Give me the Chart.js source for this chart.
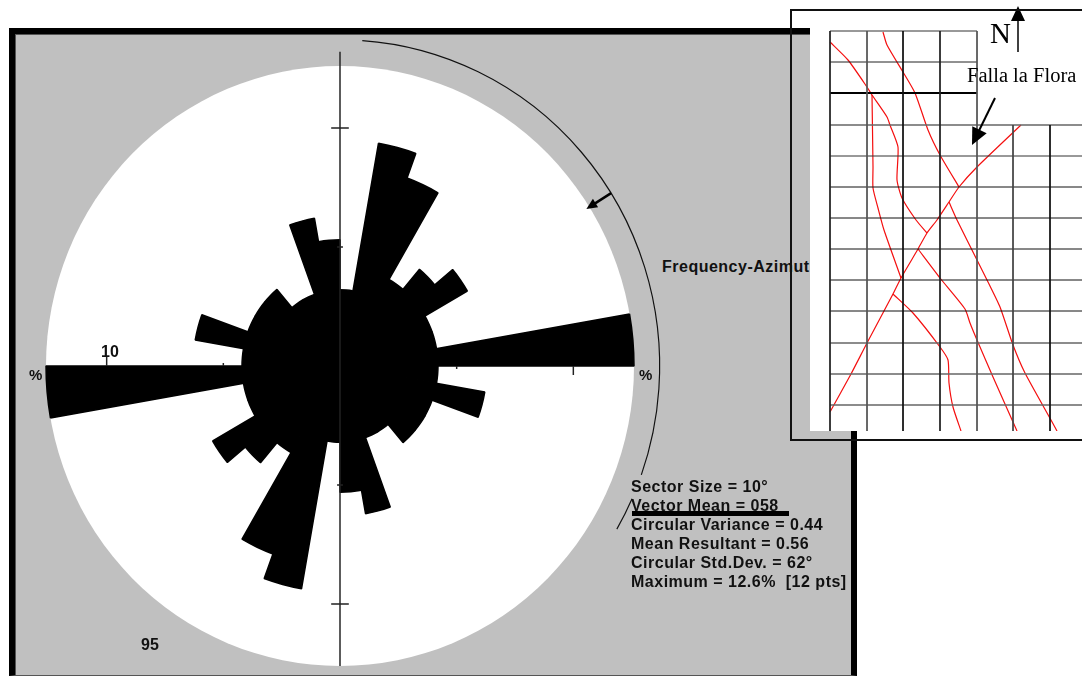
<!DOCTYPE html>
<html>
<head>
<meta charset="utf-8">
<script src="https://cdn.jsdelivr.net/npm/chart.js@4/dist/chart.umd.min.js"></script>
<style>
  html, body { margin: 0; padding: 0; background: #fff; overflow: hidden; }
  #page { position: relative; width: 1082px; height: 676px; overflow: hidden; }
  #panel { position: absolute; left: 9px; top: 28px; width: 848px; height: 648px; box-sizing: border-box;
           background: #c0c0c0; border: 6px solid #000; border-bottom: 1px solid #555; box-shadow: inset 1px 1px 0 #555; }
  canvas { position: absolute; display: block; }
  #roseCanvas { left: 0; top: 0; }
  #mapCanvas { left: 810px; top: 0; background: #fff; }
  .t { position: absolute; white-space: pre; color: #111; font: bold 16px "Liberation Sans", sans-serif; line-height: 16px; letter-spacing: 0.5px; }
  .stats { left: 631px; }
  .m { font-family: "Liberation Serif", serif; font-weight: normal; color: #000; letter-spacing: 0; }
  #underline { position: absolute; left: 632px; top: 511px; width: 157px; height: 5px; background: #000; }
  #box { position: absolute; left: 790px; top: 9px; width: 340px; height: 432px; box-sizing: border-box; border: 2px solid #111; }
</style>
</head>
<body>
<div id="page">
  <div id="panel"></div>
  <div class="t" style="left:662px;top:259px">Frequency-Azimuth</div>
  <canvas id="roseCanvas" width="860" height="676"></canvas>
  <div class="t" style="left:101px;top:344px;letter-spacing:0">10</div>
  <div class="t" style="left:29px;top:367px;font-size:15px;letter-spacing:0">%</div>
  <div class="t" style="left:639px;top:367px;font-size:15px;letter-spacing:0">%</div>
  <div class="t" style="left:141px;top:637px;letter-spacing:0">95</div>
  <div class="t stats" style="top:479px">Sector Size = 10°</div>
  <div class="t stats" style="top:498px">Vector Mean = 058</div>
  <div class="t stats" style="top:517px">Circular Variance = 0.44</div>
  <div class="t stats" style="top:536px">Mean Resultant = 0.56</div>
  <div class="t stats" style="top:555px">Circular Std.Dev. = 62°</div>
  <div class="t stats" style="top:574px">Maximum = 12.6%  [12 pts]</div>
  <div id="underline"></div>
  <canvas id="mapCanvas" width="272" height="431"></canvas>
  <div id="box"></div>
  <div class="t m" style="left:990px;top:18px;font-size:29px;line-height:30px">N</div>
  <div class="t m" style="left:967px;top:65px;font-size:20.5px;line-height:20px">Falla la Flora</div>
</div>

<script>
// rose diagram, clockwise from north, 10 degree sectors (%)
const sectorLabels = [
  "000", "010", "020", "030", "040", "050", "060", "070", "080",
  "090", "100", "110", "120", "130", "140", "150", "160", "170",
  "180", "190", "200", "210", "220", "230", "240", "250", "260",
  "270", "280", "290", "300", "310", "320", "330", "340", "350"
];
const sectorValues = [
  3.2, 9.5, 8.4, 4.2, 5.3, 6.3, 4.2, 4.2, 12.6,
  4.2, 6.3, 4.2, 4.2, 4.2, 3.2, 3.2, 6.3, 5.3,
  3.2, 9.5, 8.4, 4.2, 5.3, 6.3, 4.2, 4.2, 12.6,
  4.2, 6.3, 4.2, 4.2, 4.2, 3.2, 3.2, 6.3, 5.3
];
const roseMax = 12.6;
const minorTick = 5;
const majorTick = 10;
const axisEnd = 13.2;
const vectorMean = 58;
const arcValue = 13.7;
const arcSpans = [[4, 109.5], [114, 120]];
const arrowTail = 13.7;
const arrowTip = 12.45;

// map grid, in map units from the grid corner
const mapGridX = [0, 37, 73, 110, 147, 183, 220];
const mapGridY = [0, 31, 62, 94, 125, 156, 187, 218, 249, 280, 312, 343, 374];
const mapGridXColors = ["#222", "#555", "#111", "#222", "#555", "#444", "#111"];
const mapGridYColors = ["#333", "#222", "#000", "#666", "#333", "#111", "#111", "#111", "#111", "#111", "#666", "#666", "#666"];
const mapGridYWidths = [1, 1, 2, 1.5, 1, 1, 1, 1, 1, 1, 1.5, 1.5, 1.5];
const mapTop = 94, mapBottom = 400, mapRight = 252, mapStep = 147;

const faultA = [[0, 11], [18, 29], [37, 56], [42, 64], [57, 86], [60, 94], [68, 116], [67, 149], [72, 167], [86, 189], [97, 202]];
const faultB = [[42, 64], [43, 136], [43, 157], [48, 177], [54, 199], [71, 247]];
const faultC = [[53, 1], [57, 14], [73, 41], [85, 62], [98, 99], [110, 124], [129, 156]];
const faultFlora = [[191, 94], [147, 136], [129, 156], [119, 171], [107, 189], [97, 202], [88, 218], [71, 247], [63, 263], [37, 312], [21, 343], [0, 381]];
const faultD = [[119, 171], [127, 189], [147, 229], [158, 251], [170, 276], [183, 314], [195, 342], [221, 389], [227, 400]];
const faultE = [[88, 218], [110, 247], [135, 278], [140, 292], [147, 309], [163, 346], [187, 400]];
const faultF = [[63, 263], [83, 282], [110, 316], [118, 329], [119, 352], [123, 376], [131, 400]];
const northArrow = [[188, 21], [188, -25]];
const floraArrow = [[165, 67], [142, 114]];

function drawArrow(ctx, x1, y1, x2, y2, width, headLen, headHalf, color) {
  let a = Math.atan2(y2 - y1, x2 - x1);
  ctx.strokeStyle = color;
  ctx.fillStyle = color;
  ctx.lineWidth = width;
  ctx.beginPath();
  ctx.moveTo(x1, y1);
  ctx.lineTo(x2 - Math.cos(a) * headLen * 0.7, y2 - Math.sin(a) * headLen * 0.7);
  ctx.stroke();
  ctx.beginPath();
  ctx.moveTo(x2, y2);
  ctx.lineTo(x2 - Math.cos(a) * headLen - Math.sin(a) * headHalf, y2 - Math.sin(a) * headLen + Math.cos(a) * headHalf);
  ctx.lineTo(x2 - Math.cos(a) * headLen + Math.sin(a) * headHalf, y2 - Math.sin(a) * headLen - Math.cos(a) * headHalf);
  ctx.closePath();
  ctx.fill();
}

// the scan is a little narrower than tall, so squeeze the whole rose
const squeeze = {
  id: "squeeze",
  beforeDraw(chart) {
    let s = chart.scales.r;
    chart.ctx.save();
    chart.ctx.translate(s.xCenter, 0);
    chart.ctx.scale(0.98, 1);
    chart.ctx.translate(-s.xCenter, 0);
  },
  afterDraw(chart) {
    chart.ctx.restore();
  }
};

const roseAxes = {
  id: "roseAxes",
  afterDraw(chart) {
    let ctx = chart.ctx, s = chart.scales.r;
    let cx = s.xCenter, cy = s.yCenter;
    let dist = v => s.getDistanceFromCenterForValue(v);
    let az = (v, deg) => {
      let a = (deg - 90) * Math.PI / 180;
      return [cx + Math.cos(a) * dist(v), cy + Math.sin(a) * dist(v)];
    };
    ctx.save();
    ctx.strokeStyle = "#222";
    ctx.lineWidth = 1.5;
    ctx.beginPath();
    ctx.moveTo(cx, cy - dist(axisEnd));
    ctx.lineTo(cx, cy + dist(roseMax));
    [[minorTick, 3], [majorTick, 9]].forEach(([v, len]) => {
      ctx.moveTo(cx - len, cy - dist(v)); ctx.lineTo(cx + len, cy - dist(v));
      ctx.moveTo(cx - len, cy + dist(v)); ctx.lineTo(cx + len, cy + dist(v));
      ctx.moveTo(cx - dist(v), cy - len); ctx.lineTo(cx - dist(v), cy);
      ctx.moveTo(cx + dist(v), cy); ctx.lineTo(cx + dist(v), cy + len);
    });
    ctx.stroke();

    ctx.strokeStyle = "#111";
    ctx.lineWidth = 1.2;
    arcSpans.forEach(([from, to]) => {
      ctx.beginPath();
      ctx.arc(cx, cy, dist(arcValue), (from - 90) * Math.PI / 180, (to - 90) * Math.PI / 180);
      ctx.stroke();
    });

    let tail = az(arrowTail, vectorMean), tip = az(arrowTip, vectorMean);
    drawArrow(ctx, tail[0], tail[1], tip[0], tip[1], 2.5, 11, 5, "#000");
    ctx.restore();
  }
};

new Chart(document.getElementById("roseCanvas"), {
  type: "polarArea",
  data: {
    labels: sectorLabels,
    datasets: [{ data: sectorValues, backgroundColor: "#000", borderColor: "#000", borderWidth: 1.5 }]
  },
  options: {
    responsive: false,
    animation: false,
    layout: { padding: { left: 40, right: 220, top: 66, bottom: 10 } },
    plugins: { legend: { display: false }, tooltip: { enabled: false } },
    scales: {
      r: {
        min: 0,
        max: roseMax,
        startAngle: 0,
        backgroundColor: "#fff",
        grid: { display: false },
        angleLines: { display: false },
        ticks: { display: false },
        pointLabels: { display: false }
      }
    }
  },
  plugins: [roseAxes, squeeze]
});

function mapLine(points, color, width, tension) {
  return {
    data: points.map(p => ({ x: p[0], y: p[1] })),
    showLine: true,
    borderColor: color,
    borderWidth: width,
    pointRadius: 0,
    tension: tension
  };
}

let mapDatasets = [];
mapGridX.forEach((x, i) => {
  mapDatasets.push(mapLine([[x, x > mapStep ? mapTop : mapGridY[0]], [x, mapBottom]], mapGridXColors[i], 1, 0));
});
mapGridY.forEach((y, i) => {
  mapDatasets.push(mapLine([[mapGridX[0], y], [y < mapTop ? mapStep : mapRight, y]], mapGridYColors[i], mapGridYWidths[i], 0));
});
[faultA, faultB, faultC, faultFlora, faultD, faultE, faultF].forEach(f => {
  mapDatasets.push(mapLine(f, "#f40f0f", 1.2, 0.2));
});

const mapArrows = {
  id: "mapArrows",
  afterDraw(chart) {
    let ctx = chart.ctx, x = chart.scales.x, y = chart.scales.y;
    ctx.save();
    drawArrow(ctx, x.getPixelForValue(northArrow[0][0]), y.getPixelForValue(northArrow[0][1]),
      x.getPixelForValue(northArrow[1][0]), y.getPixelForValue(northArrow[1][1]), 1.5, 15, 7, "#000");
    drawArrow(ctx, x.getPixelForValue(floraArrow[0][0]), y.getPixelForValue(floraArrow[0][1]),
      x.getPixelForValue(floraArrow[1][0]), y.getPixelForValue(floraArrow[1][1]), 2, 17, 8, "#000");
    ctx.restore();
  }
};

new Chart(document.getElementById("mapCanvas"), {
  type: "scatter",
  data: { datasets: mapDatasets },
  options: {
    responsive: false,
    animation: false,
    layout: { padding: 0 },
    plugins: { legend: { display: false }, tooltip: { enabled: false } },
    scales: {
      x: { display: false, min: -20, max: 252 },
      y: { display: false, min: -31, max: 400, reverse: true }
    }
  },
  plugins: [mapArrows]
});
</script>
</body>
</html>
